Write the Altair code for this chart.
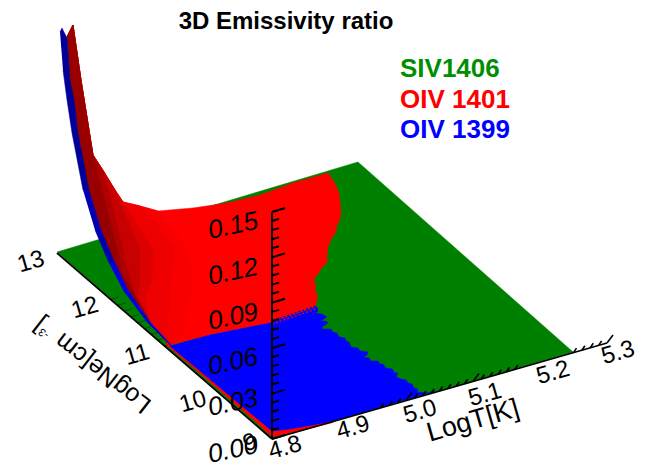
import altair as alt
import pandas as pd

# Projected outlines of the surface
green_x = [57, 358, 573, 272]
green_y = [252, 162, 352, 439]

top_x = [67, 73, 81, 93, 104, 115, 123, 140, 158, 193, 227, 260, 293, 328]
top_y = [37, 25, 80, 155, 172, 190, 202, 206, 211, 208, 203, 195, 183, 173]
red_right_x = [333, 336, 339, 340, 341, 339, 337, 336, 333, 331, 328, 327, 327, 325, 321, 319, 315, 314, 316, 315, 317, 317, 315]
red_right_y = [180, 186, 193, 203, 213, 222, 224, 232, 236, 240, 247, 255, 262, 265, 268, 273, 277, 283, 285, 290, 294, 300, 307]
red_bottom_x = [270, 210, 170]
red_bottom_y = [323, 335, 345]
left_x = [150, 128, 115, 101, 89, 78, 70]
left_y = [322, 290, 263, 230, 190, 133, 80]

# Shading levels: (start index on top edge, curve x, curve y, colour)
shade_levels = [
    (8, [177, 190, 192, 185, 172], [233, 255, 290, 332, 345], "#f80000"),
    (7, [160, 174, 170, 168, 168], [228, 250, 290, 330, 344], "#ee0000"),
    (6, [153, 152, 145], [250, 280, 297], "#dc0000"),
    (5, [140, 140, 138], [250, 285, 297], "#c80000"),
    (4, [123, 128, 135], [250, 270, 295], "#b00000"),
    (3, [117, 122], [250, 272], "#980000"),
]

strip1_x = [60, 62, 67, 70, 74, 78, 89, 83, 72, 67, 63]
strip1_y = [32, 28, 38, 80, 100, 133, 190, 190, 133, 100, 70]
strip2_x = [83, 89, 101, 115, 109, 95]
strip2_y = [190, 190, 230, 263, 263, 230]
strip3_x = [109, 115, 128, 150, 172, 170, 147, 123]
strip3_y = [263, 263, 290, 322, 346, 345, 322, 290]

edge_red_x = [166, 272, 290, 313, 333, 333, 303, 272, 255, 200, 166]
edge_red_y = [342, 431, 428, 424, 421, 422.5, 430, 437, 421, 373.5, 344.5]

blue_top_x = [170, 210, 270, 317]
blue_top_y = [346, 335, 323, 307]
blue_stair_x = [318, 315, 322, 327, 320, 326, 328, 322, 322, 331, 333, 337, 339, 345, 346, 349, 351, 358, 360, 368, 367, 363, 369,
                371, 378, 380, 383, 386, 392, 395, 398, 396, 401, 406, 408, 412, 414, 418, 417, 427, 435]
blue_stair_y = [311, 313, 314, 317, 321, 321, 323, 327, 329, 329, 332, 333, 337, 338, 341, 342, 347, 348, 351, 352, 355, 357, 358,
                361, 361, 364, 364, 368, 369, 373, 373, 377, 379, 380, 383, 384, 388, 389, 392, 393, 391]
blue_bottom_x = [333, 313, 290, 272, 170]
blue_bottom_y = [421, 425, 429, 431, 346]

# Axis ends and ticks
t_origin = (272, 439)
t_end = (607, 343)
ne_end = (57, 253)
z_end = (272, 212)
t_labels = ["4.8", "4.9", "5.0", "5.1", "5.2", "5.3"]
t_label_x = [285, 353, 420, 485, 553, 618]
t_label_y = [448, 428, 412, 395, 373, 353]
ne_labels = ["9", "10", "11", "12", "13"]
ne_label_x = [250, 193, 137, 85, 31]
ne_label_y = [443, 402, 355, 308, 262]
z_labels = ["0.00", "0.03", "0.06", "0.09", "0.12", "0.15"]
z_label_x = [233, 233, 233, 233, 233, 233]
z_label_y = [450, 403, 362, 317, 272, 226]

X = alt.Scale(domain=[8, 649], range=[0, 641], nice=False, zero=False)
Y = alt.Scale(domain=[8, 470], range=[0, 462], nice=False, zero=False)


def poly(xs, ys, color):
    df = pd.DataFrame({"x": xs, "y": ys, "i": range(len(xs))})
    return alt.Chart(df).mark_line(fill=color, stroke=color, strokeWidth=0.5).encode(
        x=alt.X("x:Q", scale=X, axis=None),
        y=alt.Y("y:Q", scale=Y, axis=None),
        order="i:Q",
    )


def segs(rows, color, width):
    df = pd.DataFrame(rows, columns=["x", "y", "x2", "y2"])
    return alt.Chart(df).mark_rule(color=color, strokeWidth=width).encode(
        x=alt.X("x:Q", scale=X, axis=None),
        y=alt.Y("y:Q", scale=Y, axis=None),
        x2="x2:Q",
        y2="y2:Q",
    )


def texts(xs, ys, labels, **kw):
    df = pd.DataFrame({"x": xs, "y": ys, "t": labels})
    return alt.Chart(df).mark_text(font="Liberation Sans", **kw).encode(
        x=alt.X("x:Q", scale=X, axis=None),
        y=alt.Y("y:Q", scale=Y, axis=None),
        text="t:N",
    )


def along(a, b, f):
    return (a[0] + (b[0] - a[0]) * f, a[1] + (b[1] - a[1]) * f)


z_rows = [(*t_origin, *z_end)]
for k in range(26):
    p = along(t_origin, z_end, k / 25)
    L = (13, -4) if k % 5 == 0 else (7, -2)
    z_rows.append((p[0], p[1], p[0] + L[0], p[1] + L[1]))

t_rows = [(*t_origin, *t_end)]
for k in range(41):
    f = k / 40
    x_ = t_origin[0] + (t_end[0] - t_origin[0]) * f
    if (x_ < 380) or (x_ > 518 and x_ < 573):
        continue
    p = along(t_origin, t_end, f)
    L = (6, -8) if k % 8 == 0 else (3, -4.5)
    t_rows.append((p[0], p[1], p[0] + L[0], p[1] + L[1]))

ne_rows = [(*t_origin, *ne_end)]
ne_ticks = []
for k in range(33):
    p = along(t_origin, ne_end, k / 32)
    if 105 < p[0] < 175:
        ne_ticks.append((p[0], p[1], p[0] + 8, p[1] - 2.5))

red_poly = poly(top_x + red_right_x + red_bottom_x + left_x, top_y + red_right_y + red_bottom_y + left_y, "#ff0000")
blue_poly = poly(blue_top_x + blue_stair_x + blue_bottom_x, blue_top_y + blue_stair_y + blue_bottom_y, "#0000ff")

shades = []
for start, cx, cy, col in shade_levels:
    shades.append(poly(top_x[:start + 1] + cx + left_x, top_y[:start + 1] + cy + left_y, col))

dash_a = pd.DataFrame({"x": [272, 316], "y": [321, 306], "i": [0, 1]})
dash_b = pd.DataFrame({"x": [272, 316], "y": [324, 309], "i": [0, 1]})
dash = alt.layer(*[
    alt.Chart(d).mark_line(color=c, strokeWidth=1.3, strokeDash=[2, 2]).encode(
        x=alt.X("x:Q", scale=X, axis=None), y=alt.Y("y:Q", scale=Y, axis=None), order="i:Q")
    for d, c in [(dash_a, "#0000ff"), (dash_b, "#ff0000")]
])

chart = alt.layer(
    poly(green_x, green_y, "#008000"),
    segs(ne_ticks, "#004000", 0.8),
    poly(edge_red_x, edge_red_y, "#ff0000"),
    red_poly,
    *shades,
    poly(strip1_x, strip1_y, "#000099"),
    poly(strip2_x, strip2_y, "#0000b0"),
    poly(strip3_x, strip3_y, "#0000e0"),
    blue_poly,
    dash,
    segs(t_rows, "#000000", 1.6),
    segs(ne_rows, "#000000", 1.8),
    segs(z_rows, "#000000", 2),
    texts([286], [29], ["3D Emissivity ratio"], fontSize=24, fontWeight="bold", color="#000000", baseline="alphabetic"),
    texts([400], [77], ["SIV1406"], fontSize=26, fontWeight="bold", color="#008f00", align="left", baseline="alphabetic"),
    texts([400], [108], ["OIV 1401"], fontSize=26, fontWeight="bold", color="#ff0000", align="left", baseline="alphabetic"),
    texts([400], [138], ["OIV 1399"], fontSize=26, fontWeight="bold", color="#0000ff", align="left", baseline="alphabetic"),
    texts(z_label_x, z_label_y, z_labels, fontSize=26, fontStyle="italic", angle=348, color="#000000"),
    texts(t_label_x, t_label_y, t_labels, fontSize=24, angle=344, color="#000000"),
    texts(ne_label_x, ne_label_y, ne_labels, fontSize=24, angle=344, color="#000000"),
    texts([473], [421], ["LogT[K]"], fontSize=27, angle=344, color="#000000"),
    texts([103], [373], ["LogNe[cm"], fontSize=25, angle=218, color="#000000"),
    texts([44], [333], ["-3"], fontSize=11, angle=218, color="#000000"),
    texts([39], [325], ["]"], fontSize=25, angle=218, color="#000000"),
).properties(width=641, height=462, padding=0, autosize=alt.AutoSizeParams(type="none")).configure_view(stroke=None)

chart.save("out.html", embed_options={"renderer": "svg", "actions": False})
